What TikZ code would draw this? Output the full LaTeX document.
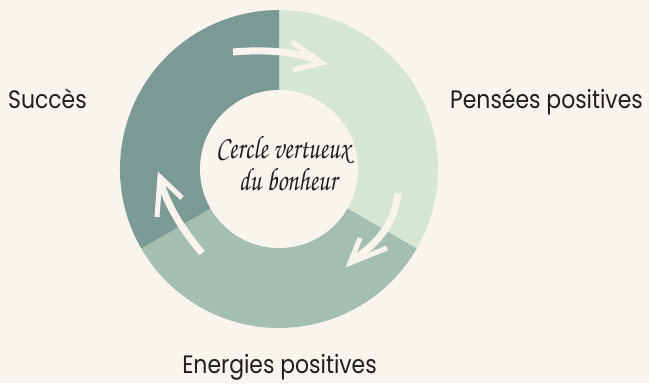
\documentclass[tikz,border=0pt]{standalone}
\usepackage[T1]{fontenc}
\usepackage{fontspec}
\setmainfont{Poppins}
\newcommand\handfont{\fontencoding{T1}\fontfamily{pzc}\fontseries{m}\fontshape{it}\selectfont}
\definecolor{bgc}{HTML}{F9F4EE}
\definecolor{segD}{HTML}{7B9A95}
\definecolor{segL}{HTML}{D6E6D5}
\definecolor{segM}{HTML}{A4BFB2}
\definecolor{brushc}{HTML}{F8F3EC}
\definecolor{inkc}{HTML}{1E1E1E}
\tikzset{
  lbl/.style={inner sep=0pt, text=inkc, font=\fontsize{22}{24}\selectfont, transform shape, yscale=1.15},
  hand/.style={inner sep=0pt, text=inkc, font=\handfont\fontsize{25}{27}\selectfont, transform shape, yscale=1.3},
  shaft/.style={draw=brushc, line width=7bp, line cap=butt},
  head/.style={draw=brushc, line width=5bp, line cap=butt, line join=miter}
}
\begin{document}
\begin{tikzpicture}[x=1bp,y=1bp]
\fill[bgc] (0,0) rectangle (649,383);
\useasboundingbox (0,0) rectangle (649,383);
\coordinate (C) at (279,214);
\fill[segL] (C) -- ++(90:159) arc[start angle=90,end angle=-30,radius=159] -- cycle;
\fill[segM] (C) -- ++(-30:159) arc[start angle=-30,end angle=-150,radius=159] -- cycle;
\fill[segD] (C) -- ++(-150:159) arc[start angle=210,end angle=90,radius=159] -- cycle;
\fill[bgc] (C) circle[radius=79];
% arrows
\coordinate (t0) at (233,331);
\coordinate (t1) at (318,322);
\draw[shaft] (t0) .. controls (265,334) and (300,331) .. (t1);
\draw[head] (292,341) -- (322,320) -- (293,313);
\coordinate (r0) at (398,190);
\coordinate (r1) at (353,123);
\draw[shaft] (r0) .. controls (395,165) and (385,145) .. (r1);
\draw[head] (360,145) -- (350,120) -- (387,135);
\coordinate (l0) at (202,130);
\coordinate (l1) at (160,203);
\draw[shaft] (l0) .. controls (185,150) and (168,175) .. (l1);
\draw[head] (157,166) -- (160,206) -- (182,185);
% texts
\node[hand, anchor=base] (h1) at (283,225) {Cercle vertueux};
\node[hand, anchor=base] (h2) at (288,193) {du bonheur};
\node[lbl, anchor=base west] (succ) at (8,275) {Succès};
\node[lbl, anchor=base east] (pens) at (643,275) {Pensées positives};
\node[lbl, anchor=base] (ener) at (279.5,10) {Energies positives};
\end{tikzpicture}
\end{document}
